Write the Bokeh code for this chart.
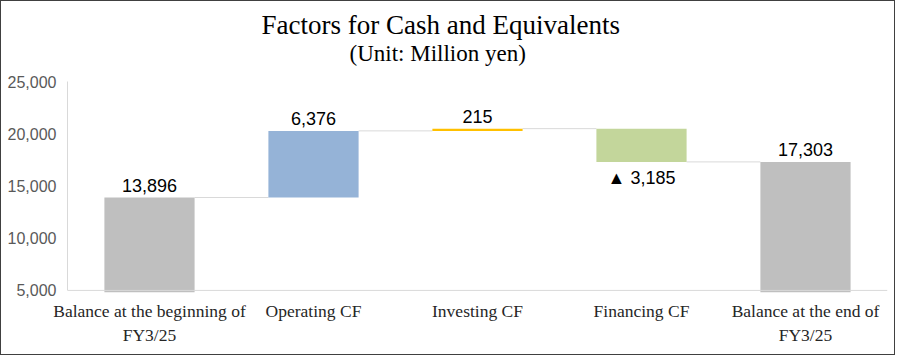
from bokeh.plotting import figure
from bokeh.models import ColumnDataSource, FactorRange, Range1d, Title, Span, FixedTicker
from bokeh.transform import dodge
from bokeh.core.properties import value
from bokeh.embed import file_html
from bokeh.resources import INLINE

# ---- data ----
categories = ["Balance at the beginning of\nFY3/25", "Operating CF", "Investing CF",
              "Financing CF", "Balance at the end of\nFY3/25"]
values = [13896, 6376, 215, -3185, 17303]
is_total = [True, False, False, False, True]
bar_colors = ["#bfbfbf", "#95b3d7", "#ffc000", "#c3d69b", "#bfbfbf"]
y_ticks = [5000, 10000, 15000, 20000, 25000]
title_text = "Factors for Cash and Equivalents"
subtitle_text = "(Unit: Million yen)"

# ---- waterfall geometry from data ----
bottoms, tops, levels = [], [], []
running = 0
for v, tot in zip(values, is_total):
    if tot:
        bottoms.append(0)
        tops.append(v)
        running = v
    else:
        start = running
        running += v
        bottoms.append(min(start, running))
        tops.append(max(start, running))
    levels.append(running)

labels = [f"{v:,}" if v >= 0 else f"\u25b2 {abs(v):,}" for v in values]

bar_src = ColumnDataSource(dict(x=categories, bottom=bottoms, top=tops, color=bar_colors))
pos_idx = [i for i, v in enumerate(values) if v >= 0]
neg_idx = [i for i, v in enumerate(values) if v < 0]
pos_src = ColumnDataSource(dict(x=[categories[i] for i in pos_idx],
                                y=[tops[i] for i in pos_idx],
                                t=[labels[i] for i in pos_idx]))
neg_src = ColumnDataSource(dict(x=[categories[i] for i in neg_idx],
                                y=[bottoms[i] for i in neg_idx],
                                t=[labels[i] for i in neg_idx]))
conn_src = ColumnDataSource(dict(x0=categories[:-1], x1=categories[1:], y=levels[:-1]))

BAR_W = 0.55
SANS = "Liberation Sans"
SERIF = "Liberation Serif"

p = figure(width=895, height=355, x_range=FactorRange(*categories),
           y_range=Range1d(4800, 25000), title=None,
           output_backend="svg", toolbar_location=None,
           min_border_left=66, min_border_right=9, min_border_top=80, min_border_bottom=64)
p.styles = {"border": "1px solid #404040"}
p.outline_line_color = None
p.xgrid.grid_line_color = None
p.ygrid.grid_line_color = None
p.background_fill_color = "white"
p.border_fill_color = "white"

p.add_layout(Title(text=subtitle_text, align="left", vertical_align="top", text_font=SERIF,
                   text_font_size="23px", text_font_style="normal",
                   text_color="black", standoff=28, offset=282), "above")
p.add_layout(Title(text=title_text, align="left", vertical_align="bottom", text_font=SERIF,
                   text_font_size="27px", text_font_style="normal",
                   text_color="black", standoff=-26, offset=194), "above")

# baseline at 5,000
p.add_layout(Span(location=y_ticks[0], dimension="width", line_color="#d9d9d9", line_width=1))

# connectors
p.segment(x0=dodge("x0", BAR_W / 2, range=p.x_range), x1=dodge("x1", -BAR_W / 2, range=p.x_range),
          y0="y", y1="y", source=conn_src, line_color="#d9d9d9", line_width=1)

p.vbar(x="x", bottom="bottom", top="top", width=BAR_W, fill_color="color",
       line_color=None, source=bar_src)

p.text(x="x", y="y", text="t", source=pos_src, text_align="center",
       text_baseline="alphabetic", y_offset=-12, text_font=value(SANS),
       text_font_size="18px", text_color="black")
p.text(x="x", y="y", text="t", source=neg_src, text_align="center",
       text_baseline="top", y_offset=6, text_font=value(SANS),
       text_font_size="18px", text_color="black")

# axes
p.yaxis.ticker = FixedTicker(ticks=y_ticks)
p.yaxis.bounds = (y_ticks[0], y_ticks[-1])
p.yaxis.major_label_overrides = {t: f"{t:,}" for t in y_ticks}
p.yaxis.axis_line_color = "#d9d9d9"
p.yaxis.major_tick_line_color = None
p.yaxis.minor_tick_line_color = None
p.yaxis.major_label_text_font = SANS
p.yaxis.major_label_text_font_size = "16px"
p.yaxis.major_label_text_color = "#595959"
p.yaxis.major_label_standoff = 5

p.xaxis.axis_line_color = None
p.xaxis.major_tick_line_color = None
p.xaxis.minor_tick_line_color = None
p.xaxis.major_label_text_font = SERIF
p.xaxis.major_label_text_font_size = "17.5px"
p.xaxis.major_label_text_color = "#262626"
p.xaxis.major_label_standoff = 2

open("out.html", "w").write(file_html(p, INLINE))
